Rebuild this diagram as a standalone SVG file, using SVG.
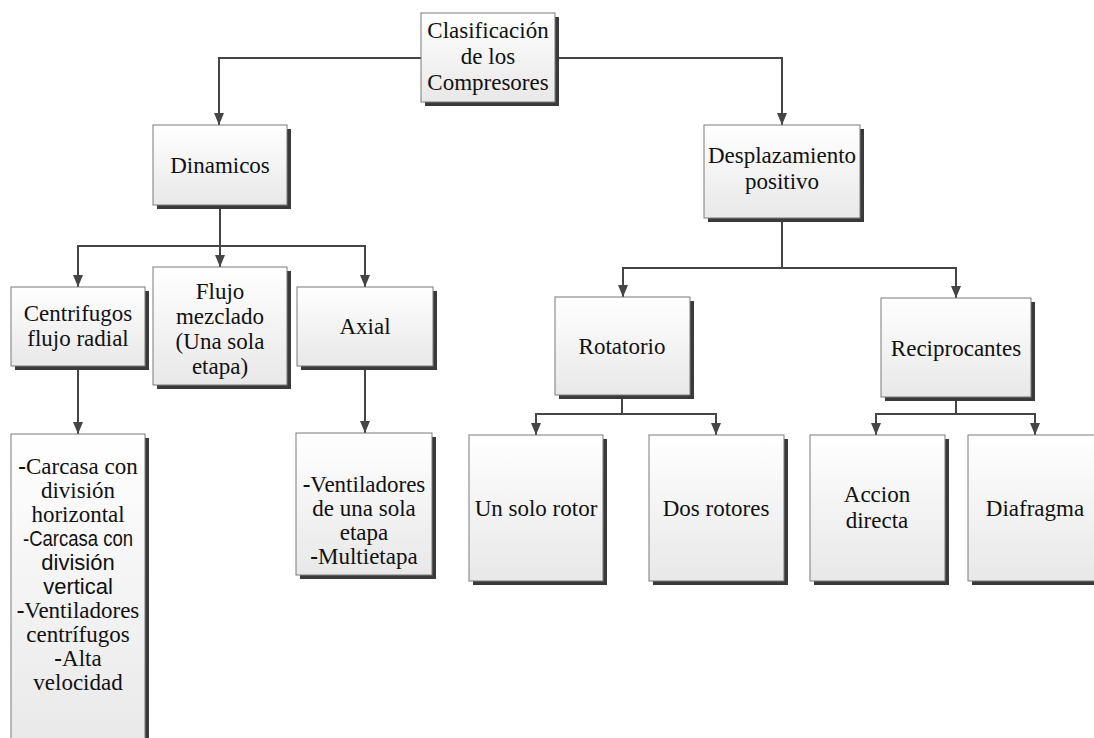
<svg xmlns="http://www.w3.org/2000/svg" width="1094" height="738" viewBox="0 0 1094 738">
<style>
.b{fill:url(#bg);stroke:#7a7a7a;stroke-width:1}
.sh{fill:#3a3a3a}
.t{font-family:"Liberation Serif","Times New Roman",serif;font-size:23px;fill:#111;text-anchor:middle}
.s{font-family:"Liberation Sans",Arial,sans-serif;font-size:22px}
.c{fill:none;stroke:#454545;stroke-width:2}
.a{marker-end:url(#ah)}
.h{font-weight:bold}
</style>
<defs>
<linearGradient id="bg" x1="0" y1="0" x2="0" y2="1"><stop offset="0" stop-color="#ffffff"/><stop offset="1" stop-color="#e8e8e8"/></linearGradient>
<marker id="ah" viewBox="0 0 12 10" refX="12" refY="5" markerWidth="12" markerHeight="10" markerUnits="userSpaceOnUse" orient="auto"><path d="M0,0 L12,5 L0,10 Z" fill="#454545"/></marker>
</defs>
<rect width="1094" height="738" fill="#ffffff"/>
<g id="connectors">
<path class="c a" d="M421,58 H219 V125"/>
<path class="c a" d="M555,58 H782 V125"/>
<path class="c" d="M220,205 V246"/>
<path class="c a" d="M220,246 H78 V287"/>
<path class="c a" d="M220,246 H365 V287"/>
<path class="c a" d="M220,246 V267"/>
<path class="c a" d="M78,366 V434"/>
<path class="c a" d="M365,366 V433"/>
<path class="c" d="M782,218 V268"/>
<path class="c a" d="M782,268 H623 V297"/>
<path class="c a" d="M782,268 H956 V298"/>
<path class="c" d="M622,395 V414"/>
<path class="c a" d="M622,414 H536 V435"/>
<path class="c a" d="M622,414 H716 V435"/>
<path class="c" d="M956,397 V414"/>
<path class="c a" d="M956,414 H876 V435"/>
<path class="c a" d="M956,414 H1035 V435"/>
</g>
<g id="n-clasificacion">
<rect class="sh" x="425" y="17" width="134" height="89"/>
<rect class="b" x="421" y="13" width="134" height="89"/>
<text class="t" x="488" y="38">Clasificación</text>
<text class="t" x="488" y="64">de los</text>
<text class="t" x="488" y="90">Compresores</text>
</g>
<g id="n-dinamicos">
<rect class="sh" x="157" y="129" width="134" height="80"/>
<rect class="b" x="153" y="125" width="134" height="80"/>
<text class="t" x="220" y="173">Dinamicos</text>
</g>
<g id="n-desplazamiento">
<rect class="sh" x="708" y="129" width="156" height="93"/>
<rect class="b" x="704" y="125" width="156" height="93"/>
<text class="t" x="782" y="163">Desplazamiento</text>
<text class="t" x="782" y="189">positivo</text>
</g>
<g id="n-centrifugos">
<rect class="sh" x="15" y="291" width="134" height="79"/>
<rect class="b" x="11" y="287" width="134" height="79"/>
<text class="t" x="78" y="321">Centrifugos</text>
<text class="t" x="78" y="346">flujo radial</text>
</g>
<g id="n-flujo">
<rect class="sh" x="157" y="271" width="134" height="118"/>
<rect class="b" x="153" y="267" width="134" height="118"/>
<text class="t" x="220" y="299">Flujo</text>
<text class="t" x="220" y="324">mezclado</text>
<text class="t" x="220" y="349">(Una sola</text>
<text class="t" x="220" y="374">etapa)</text>
</g>
<g id="n-axial">
<rect class="sh" x="301" y="291" width="136" height="79"/>
<rect class="b" x="297" y="287" width="136" height="79"/>
<text class="t" x="365" y="334">Axial</text>
</g>
<g id="n-centrifugos-tipos">
<rect class="sh" x="15" y="438" width="134" height="320"/>
<rect class="b" x="11" y="434" width="134" height="320"/>
<text class="t" x="78" y="474"><tspan class="h">-</tspan>Carcasa con</text>
<text class="t" x="78" y="498">división</text>
<text class="t" x="78" y="522">horizontal</text>
<text class="t s" x="78" y="546" textLength="110" lengthAdjust="spacingAndGlyphs">-Carcasa con</text>
<text class="t s" x="78" y="570">división</text>
<text class="t s" x="78" y="594">vertical</text>
<text class="t" x="78" y="618"><tspan class="h">-</tspan>Ventiladores</text>
<text class="t" x="78" y="642">centrífugos</text>
<text class="t" x="78" y="666"><tspan class="h">-</tspan>Alta</text>
<text class="t" x="78" y="690">velocidad</text>
</g>
<g id="n-axial-tipos">
<rect class="sh" x="300" y="437" width="136" height="142"/>
<rect class="b" x="296" y="433" width="136" height="142"/>
<text class="t" x="364" y="492"><tspan class="h">-</tspan>Ventiladores</text>
<text class="t" x="364" y="516">de una sola</text>
<text class="t" x="364" y="540">etapa</text>
<text class="t" x="364" y="564"><tspan class="h">-</tspan>Multietapa</text>
</g>
<g id="n-rotatorio">
<rect class="sh" x="559" y="301" width="135" height="98"/>
<rect class="b" x="555" y="297" width="135" height="98"/>
<text class="t" x="622" y="354">Rotatorio</text>
</g>
<g id="n-reciprocantes">
<rect class="sh" x="885" y="302" width="150" height="99"/>
<rect class="b" x="881" y="298" width="150" height="99"/>
<text class="t" x="956" y="356">Reciprocantes</text>
</g>
<g id="n-un-solo-rotor">
<rect class="sh" x="473" y="439" width="134" height="146"/>
<rect class="b" x="469" y="435" width="134" height="146"/>
<text class="t" x="536" y="516">Un solo rotor</text>
</g>
<g id="n-dos-rotores">
<rect class="sh" x="653" y="439" width="135" height="146"/>
<rect class="b" x="649" y="435" width="135" height="146"/>
<text class="t" x="716" y="516">Dos rotores</text>
</g>
<g id="n-accion-directa">
<rect class="sh" x="814" y="439" width="135" height="146"/>
<rect class="b" x="810" y="435" width="135" height="146"/>
<text class="t" x="877" y="502">Accion</text>
<text class="t" x="877" y="528">directa</text>
</g>
<g id="n-diafragma">
<rect class="sh" x="972" y="439" width="134" height="146"/>
<rect class="b" x="968" y="435" width="134" height="146"/>
<text class="t" x="1035" y="516">Diafragma</text>
</g>
</svg>
